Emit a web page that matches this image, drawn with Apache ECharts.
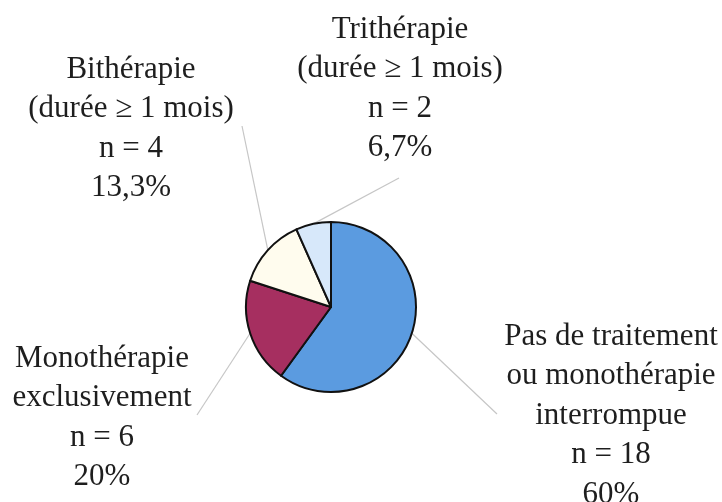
<!DOCTYPE html>
<html>
<head>
<meta charset="utf-8">
<script src="https://cdn.jsdelivr.net/npm/echarts@6/dist/echarts.min.js"></script>
<style>
    html, body { margin: 0; padding: 0; background: #fff; }
    #chart { width: 722px; height: 502px; }
</style>
</head>
<body>
<div id="chart"></div>
<script>
var categories = [
    'Pas de traitement\nou monothérapie\ninterrompue',
    'Monothérapie\nexclusivement',
    'Bithérapie\n(durée ≥ 1 mois)',
    'Trithérapie\n(durée ≥ 1 mois)'
];
var counts = [18, 6, 4, 2];
var colors = ['#5b9be0', '#a62f60', '#fffcee', '#d7e8fa'];

// where each text block sits (top centre) and where its leader line stops
var labelPos = [
    { x: 611, y: 317, lineEnd: [497, 414] },
    { x: 102, y: 339, lineEnd: [197, 415] },
    { x: 131, y: 50, lineEnd: [242, 126] },
    { x: 400, y: 10, lineEnd: [399, 178] }
];

function pctText(p) {
    var s = (Math.round(p * 10) / 10).toString();
    return s.replace('.', ',') + '%';
}

var seriesData = [];
for (var i = 0; i < categories.length; i++) {
    seriesData.push({
        name: categories[i],
        value: counts[i],
        itemStyle: { color: colors[i] }
    });
}

var myChart = echarts.init(document.getElementById('chart'));
myChart.setOption({
    animation: false,
    series: [{
        type: 'pie',
        center: [331, 307],
        radius: 85,
        startAngle: 90,
        clockwise: true,
        avoidLabelOverlap: false,
        silent: true,
        itemStyle: {
            borderColor: '#111',
            borderWidth: 2
        },
        label: {
            show: true,
            position: 'outside',
            fontFamily: '"Liberation Serif", "Times New Roman", serif',
            fontSize: 31,
            lineHeight: 39.5,
            color: '#1e1e1e',
            align: 'center',
            formatter: function (p) {
                return p.name + '\nn = ' + p.value + '\n' + pctText(p.percent);
            }
        },
        labelLine: {
            show: true,
            length: 10,
            length2: 10,
            lineStyle: { color: '#c6c6c6', width: 1.2 }
        },
        labelLayout: function (params) {
            var pos = labelPos[params.dataIndex];
            var start = params.labelLinePoints[0];
            return {
                x: pos.x,
                y: pos.y,
                align: 'center',
                verticalAlign: 'top',
                labelLinePoints: [start, pos.lineEnd]
            };
        },
        emphasis: { disabled: true },
        data: seriesData
    }]
});
</script>
</body>
</html>
